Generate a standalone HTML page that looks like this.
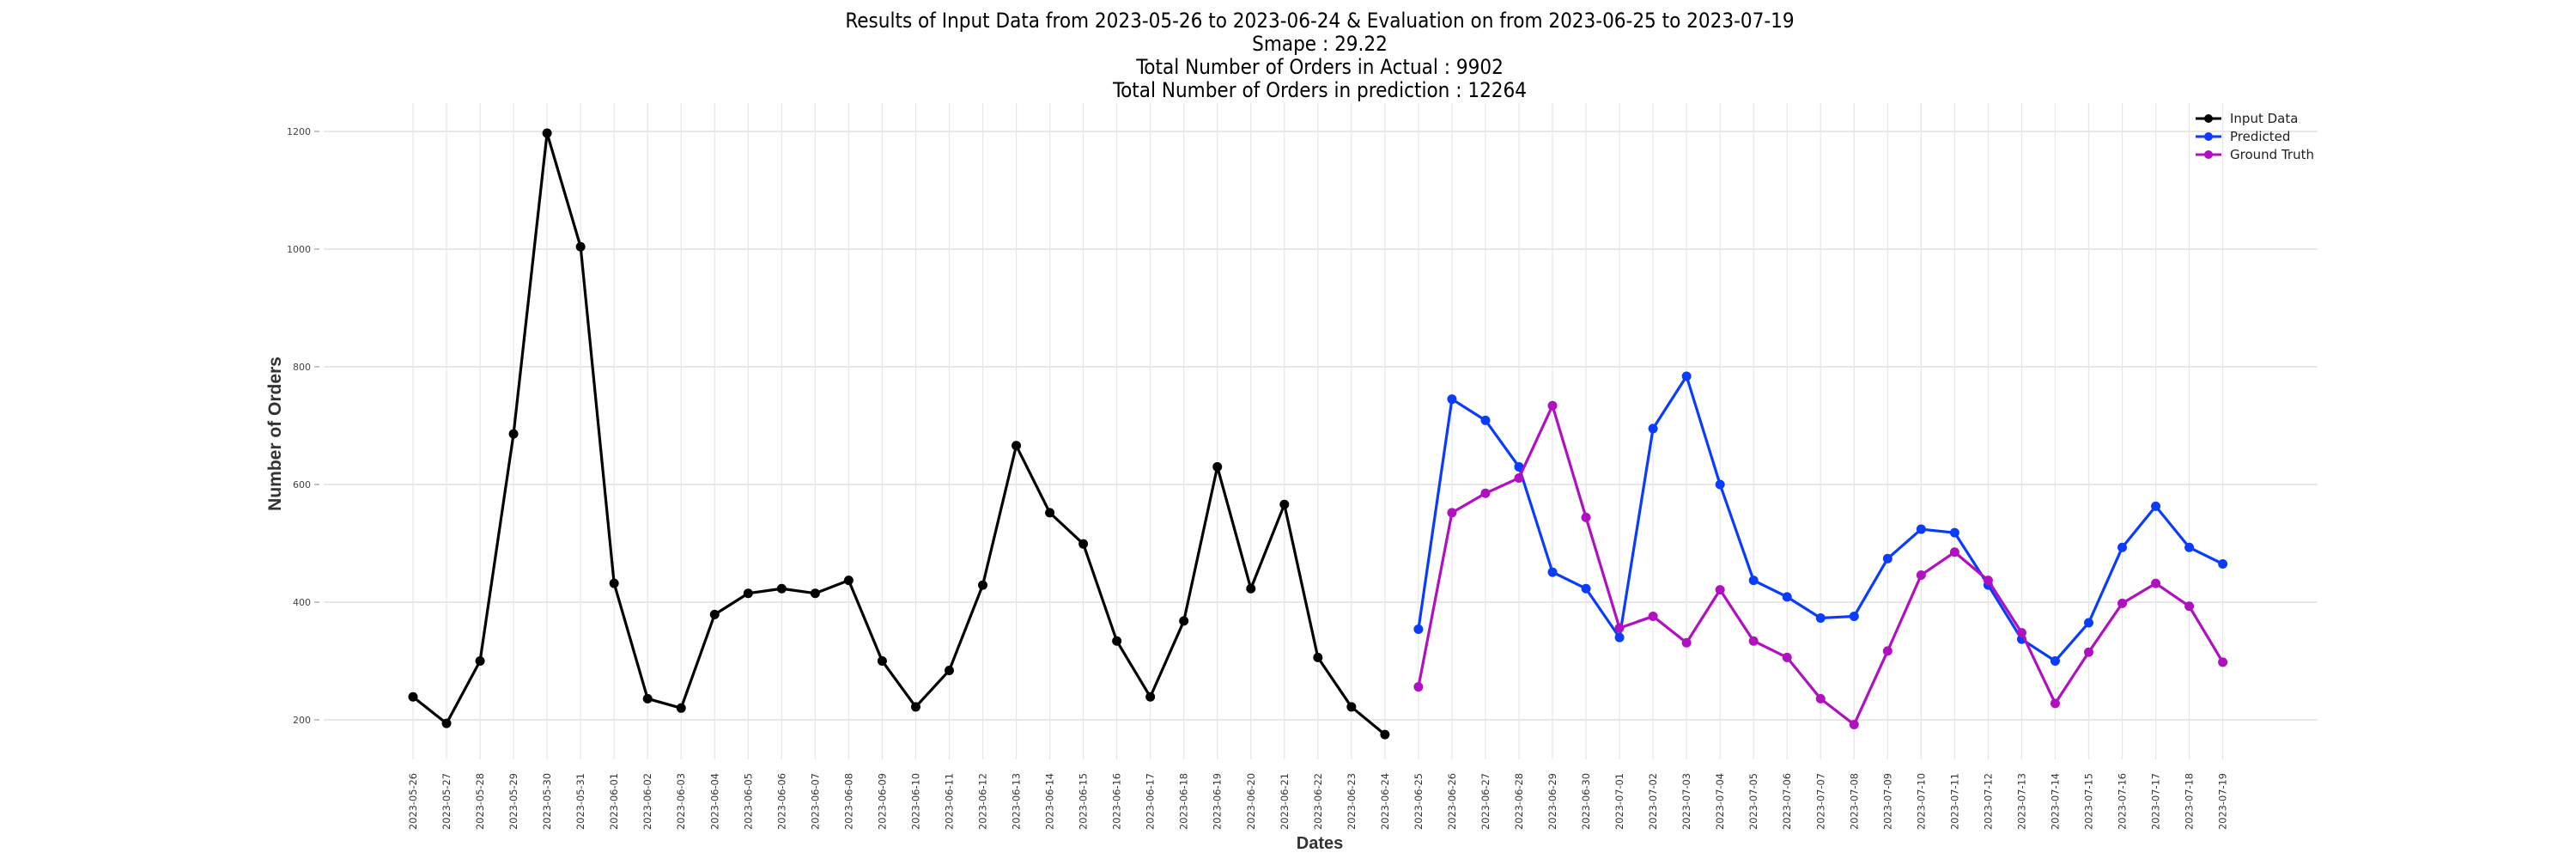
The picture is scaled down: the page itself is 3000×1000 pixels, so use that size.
<!DOCTYPE html>
<html><head><meta charset="utf-8"><style>
html,body{margin:0;padding:0;background:#fff;}
svg{display:block;font-family:"DejaVu Sans Condensed","Liberation Sans Narrow","DejaVu Sans","Liberation Sans",sans-serif;}
</style></head><body>
<svg id="chart" width="3000" height="1000" viewBox="0 0 3000 1000" xmlns="http://www.w3.org/2000/svg">
<g text-anchor="middle" font-size="24" fill="#000">
<text x="1537" y="32">Results of Input Data from 2023-05-26 to 2023-06-24 &amp; Evaluation on from 2023-06-25 to 2023-07-19</text>
<text x="1537" y="59">Smape : 29.22</text>
<text x="1537" y="86">Total Number of Orders in Actual : 9902</text>
<text x="1537" y="113">Total Number of Orders in prediction : 12264</text>
</g>
<g id="grid"></g>
<g id="yticks"></g>
<g id="xticks"></g>
<g id="series"></g>
<text x="0" y="0" transform="translate(327,505) rotate(-90)" text-anchor="middle" font-size="21" font-weight="bold" fill="#333" font-family="Liberation Sans, sans-serif">Number of Orders</text>
<text x="1537" y="988" text-anchor="middle" font-size="20" font-weight="bold" fill="#333" font-family="Liberation Sans, sans-serif">Dates</text>
<g font-size="15" fill="#222" font-family="DejaVu Sans, sans-serif">
<g><line x1="2557" y1="138" x2="2587" y2="138" stroke="#000" stroke-width="3"/><circle cx="2572" cy="138" r="5" fill="#000"/><text x="2597" y="143">Input Data</text></g>
<g><line x1="2557" y1="159" x2="2587" y2="159" stroke="#0a3cff" stroke-width="3"/><circle cx="2572" cy="159" r="5" fill="#0a3cff"/><text x="2597" y="164">Predicted</text></g>
<g><line x1="2557" y1="180" x2="2587" y2="180" stroke="#b010c0" stroke-width="3"/><circle cx="2572" cy="180" r="5" fill="#b010c0"/><text x="2597" y="185">Ground Truth</text></g>
</g>
</svg>
<script>
const inputValues=[239,194,300,686,1197,1004,432,236,220,379,415,423,415,437,300,222,284,429,666,552,499,334,239,368,630,423,566,306,222,175];
const predictedValues=[354,745,709,630,451,423,340,695,784,600,437,409,373,376,474,524,518,429,337,300,365,493,563,493,465];
const groundTruthValues=[256,552,585,611,734,544,356,376,331,421,334,306,236,192,317,446,485,437,348,228,315,398,432,393,298];
const yTickValues=[200,400,600,800,1000,1200];
const startDate='2023-05-26';
const dateCount=55;

const NS='http://www.w3.org/2000/svg';
const X0=481,DX=39.03,Y200=838,PXU=0.685;
const xPos=i=>X0+i*DX;
const yPos=v=>Y200-(v-200)*PXU;
function mk(tag,attrs,parent){const e=document.createElementNS(NS,tag);for(const k in attrs)e.setAttribute(k,attrs[k]);parent.appendChild(e);return e;}
const dates=[];
{const d=new Date(startDate+'T00:00:00Z');for(let i=0;i<dateCount;i++){dates.push(d.toISOString().slice(0,10));d.setUTCDate(d.getUTCDate()+1);}}
const grid=document.getElementById('grid'),yt=document.getElementById('yticks'),xt=document.getElementById('xticks'),ser=document.getElementById('series');
yTickValues.forEach(v=>{
  const l=mk('line',{x1:377,x2:2699,y1:yPos(v),y2:yPos(v),stroke:'#e0e0e0','stroke-width':1.5},grid);
  
  
  const t=mk('text',{x:362,y:yPos(v)+4,'text-anchor':'end','font-size':11,fill:'#444','font-family':'DejaVu Sans, sans-serif'},yt);
  t.textContent=v;
  
  
  mk('line',{x1:366,x2:372,y1:yPos(v),y2:yPos(v),stroke:'#888','stroke-width':1},yt);
});
dates.forEach((d,i)=>{
  const l=mk('line',{x1:xPos(i),x2:xPos(i),y1:120,y2:884,stroke:'#e6e6e6','stroke-width':1.2},grid);
  
  
  const t=mk('text',{x:0,y:0,transform:`translate(${xPos(i)+4},966) rotate(-90)`,'font-size':11.5,fill:'#333','font-family':'DejaVu Sans, sans-serif',textLength:66,lengthAdjust:'spacingAndGlyphs'},xt);
  t.textContent=d;
  
  
});
function series(vals,offset,color,name){
  const g=mk('g',{},ser);
  
  
  const pts=vals.map((v,i)=>xPos(i+offset)+','+yPos(v)).join(' ');
  mk('polyline',{points:pts,fill:'none',stroke:color,'stroke-width':3.2,'stroke-linejoin':'round'},g);
  vals.forEach((v,i)=>{
    const c=mk('circle',{cx:xPos(i+offset),cy:yPos(v),r:5.5,fill:color},g);
    
    
  });
}
series(inputValues,0,'#000','input-data-line');
series(predictedValues,30,'#0a3cff','predicted-line');
series(groundTruthValues,30,'#b010c0','ground-truth-line');
</script>
</body></html>
